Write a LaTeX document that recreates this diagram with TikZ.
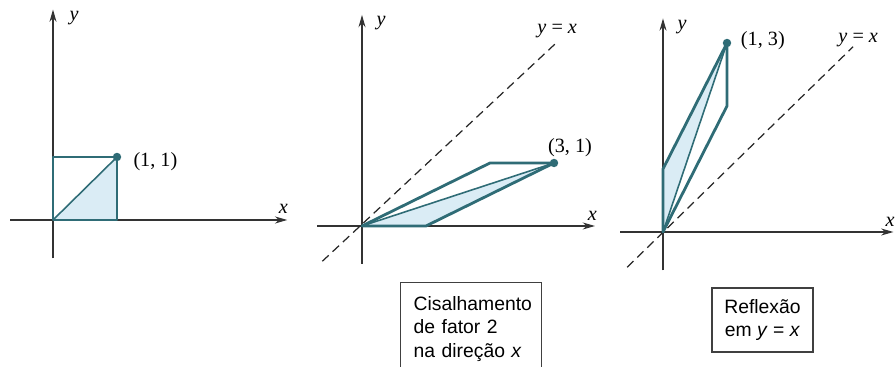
\documentclass[tikz,border=0pt]{standalone}
\usepackage{fontspec}
\setmainfont{Liberation Serif}
\setsansfont{Liberation Sans}
\usetikzlibrary{arrows.meta}
\definecolor{contorno}{RGB}{47,108,118}
\definecolor{preench}{RGB}{218,236,245}

\begin{document}
\begin{tikzpicture}[>={Stealth[length=7pt,width=4pt]},
    eixo/.style={->,line width=0.6pt,black!80},
    figura/.style={draw=contorno,line width=1.6pt,line join=round},
    diag/.style={draw=contorno,line width=0.9pt},
    tracejado/.style={dashed,line width=0.7pt,dash pattern=on 5pt off 3pt,black!85},
    rotulo/.style={font=\fontsize{11.5}{13}\selectfont},
    caixa/.style={draw,line width=0.8pt,black!75,text=black,font=\sffamily\fontsize{11}{13.5}\selectfont}]
    % Moldura (896 x 367 px)
    \useasboundingbox (0,0) rectangle (17.92,7.34);

    % Quadrado unitario
    \begin{scope}[shift={(1.06,2.94)},x=1.28cm,y=1.26cm]
        \fill[preench] (0,0) -- (1,0) -- (1,1) -- cycle;
        \draw[eixo] (-0.67,0) -- (3.66,0);
        \draw[eixo] (0,-0.61) -- (0,3.34);
        \node[rotulo] (xa) at (3.6,0.17) {\textit{x}};
        \node[rotulo] (ya) at (0.33,3.2) {\textit{y}};
        \draw[figura] (0,0) coordinate (oa) -- (1,0) -- (1,1) coordinate (pa) -- (0,1) -- cycle;
        \draw[diag] (oa) -- (pa);
        \fill[contorno] (pa) circle (2.4pt);
        \node[rotulo] (la) at (1.6,0.92) {(1, 1)};
    \end{scope}

    % Cisalhamento
    \begin{scope}[shift={(7.24,2.82)},x=1.28cm,y=1.26cm]
        \fill[preench] (0,0) -- (1,0) -- (3,1) -- cycle;
        \draw[eixo] (-0.7,0) -- (3.64,0);
        \draw[eixo] (0,-0.6) -- (0,3.35);
        \node[rotulo] (xb) at (3.6,0.16) {\textit{x}};
        \node[rotulo] (yb) at (0.3,3.22) {\textit{y}};
        \coordinate (ib) at (-0.62,-0.56);
        \coordinate (fb) at (3.06,2.93);
        \draw[tracejado] (ib) -- (fb);
        \node[rotulo] (rb) at (3.05,3.1) {\textit{y} = \textit{x}};
        \draw[figura] (0,0) coordinate (ob) -- (1,0) -- (3,1) coordinate (pb) -- (2,1) -- cycle;
        \draw[diag] (ob) -- (pb);
        \fill[contorno] (pb) circle (2.4pt);
        \node[rotulo] (lb) at (3.25,1.25) {(3, 1)};
    \end{scope}

    % Reflexao
    \begin{scope}[shift={(13.26,2.70)},x=1.28cm,y=1.26cm]
        \fill[preench] (0,0) -- (0,1) -- (1,3) -- cycle;
        \draw[eixo] (-0.67,0) -- (3.6,0);
        \draw[eixo] (0,-0.61) -- (0,3.39);
        \node[rotulo] (xc) at (3.55,0.16) {\textit{x}};
        \node[rotulo] (yc) at (0.3,3.25) {\textit{y}};
        \coordinate (ic) at (-0.56,-0.56);
        \coordinate (fc) at (2.97,2.94);
        \draw[tracejado] (ic) -- (fc);
        \node[rotulo] (rc) at (3.05,3.04) {\textit{y} = \textit{x}};
        \draw[figura] (0,0) coordinate (oc) -- (0,1) -- (1,3) coordinate (pc) -- (1,2) -- cycle;
        \draw[diag] (oc) -- (pc);
        \fill[contorno] (pc) circle (2.4pt);
        \node[rotulo] (lc) at (1.56,3.03) {(1, 3)};
    \end{scope}

    % Legendas
    \node[caixa,anchor=north west,align=left,text width=2.3cm,inner xsep=0.26cm,inner ysep=0.27cm]
        (cis) at (8.0,1.70) {Cisalhamento\\de fator 2\\na direção \textit{x}};
    \node[caixa,align=center,minimum width=2.02cm,minimum height=1.28cm,inner sep=0pt]
        (ref) at (15.25,0.94) {Reflexão\\em \textit{y} = \textit{x}};
\end{tikzpicture}
\end{document}
